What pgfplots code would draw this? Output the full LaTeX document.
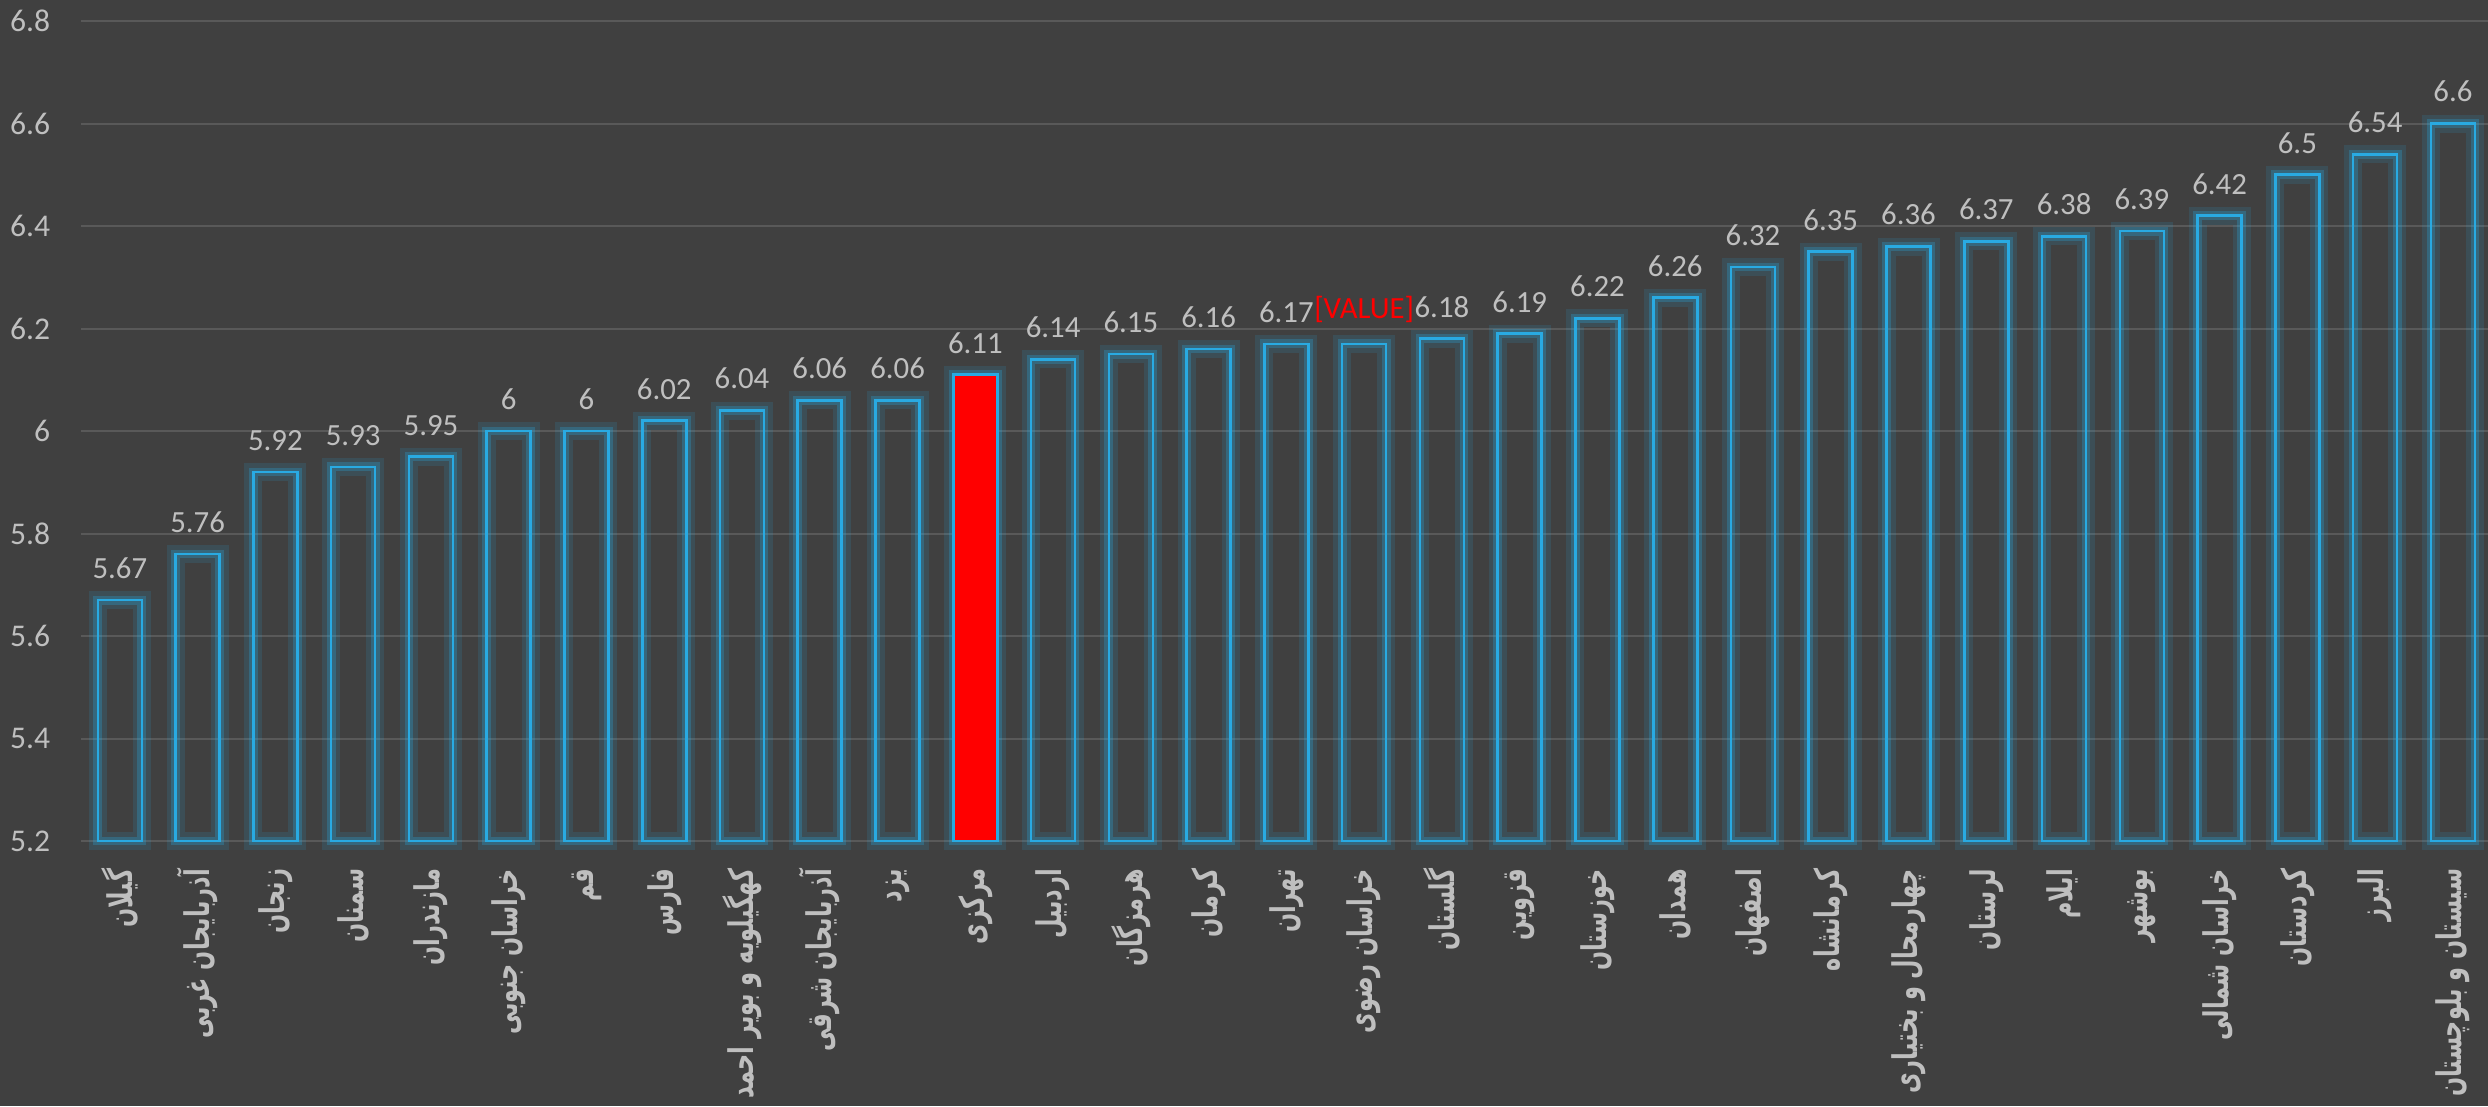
\documentclass[border=0pt]{standalone}
\usepackage{pgfplots}
\pgfplotsset{compat=1.18}
\usepackage{pgfplotstable}
\usepackage{fontspec}
\setmainfont{Carlito}
\newfontfamily\arabicfont[Script=Arabic, FakeStretch=0.66]{DejaVu Sans}
\TeXXeTstate=1
\definecolor{bg}{RGB}{64,64,64}
\definecolor{gridc}{RGB}{89,89,89}
\definecolor{txt}{RGB}{191,191,191}
\definecolor{barblue}{RGB}{41,170,226}

% province scores, sorted
\pgfplotstableread{
x y lab
0 5.67 5.67
1 5.76 5.76
2 5.92 5.92
3 5.93 5.93
4 5.95 5.95
5 6.00 6
6 6.00 6
7 6.02 6.02
8 6.04 6.04
9 6.06 6.06
10 6.06 6.06
11 6.11 6.11
12 6.14 6.14
13 6.15 6.15
14 6.16 6.16
15 6.17 6.17
16 6.17 {}
17 6.18 6.18
18 6.19 6.19
19 6.22 6.22
20 6.26 6.26
21 6.32 6.32
22 6.35 6.35
23 6.36 6.36
24 6.37 6.37
25 6.38 6.38
26 6.39 6.39
27 6.42 6.42
28 6.50 6.5
29 6.54 6.54
30 6.60 6.6
}\scores

\begin{document}
\begin{tikzpicture}
\path[use as bounding box, fill=bg] (-20.25pt,-66.25pt) rectangle (601.75pt,210.25pt);
\clip (-20.25pt,-66.25pt) rectangle (601.75pt,210.25pt);
\begin{axis}[
    at={(0,0)}, anchor=south west,
    width=602.7pt, height=205pt, scale only axis,
    ybar, bar width=11pt, bar shift=0pt,
    xmin=-0.5, xmax=30.5, ymin=0, ymax=1.6,
    y filter/.expression={y-5.2},
    clip=false,
    axis line style={draw=none},
    tick style={draw=none},
    ymajorgrids,
    grid style={gridc, line width=0.5pt},
    ytick={0,0.2,0.4,0.6,0.8,1,1.2,1.4,1.6},
    yticklabels={5.2,5.4,5.6,5.8,6,6.2,6.4,6.6,6.8},
    yticklabel style={font=\fontsize{7.9}{9}\selectfont, text=txt, inner sep=0pt},
    yticklabel shift=7.5pt,
    xtick={0,...,30},
    xticklabels={
        \beginR گیلان\endR,
        \beginR آذربایجان غربی\endR,
        \beginR زنجان\endR,
        \beginR سمنان\endR,
        \beginR مازندران\endR,
        \beginR خراسان جنوبی\endR,
        \beginR قم\endR,
        \beginR فارس\endR,
        \beginR کهگیلویه و بویر احمد\endR,
        \beginR آذربایجان شرقی\endR,
        \beginR یزد\endR,
        \beginR مرکزی\endR,
        \beginR اردبیل\endR,
        \beginR هرمزگان\endR,
        \beginR کرمان\endR,
        \beginR تهران\endR,
        \beginR خراسان رضوی\endR,
        \beginR گلستان\endR,
        \beginR قزوین\endR,
        \beginR خوزستان\endR,
        \beginR همدان\endR,
        \beginR اصفهان\endR,
        \beginR کرمانشاه\endR,
        \beginR چهارمحال و بختیاری\endR,
        \beginR لرستان\endR,
        \beginR ایلام\endR,
        \beginR بوشهر\endR,
        \beginR خراسان شمالی\endR,
        \beginR کردستان\endR,
        \beginR البرز\endR,
        \beginR سیستان و بلوچستان\endR},
    xticklabel style={font=\arabicfont\bfseries\fontsize{8.5}{9}\selectfont,
        text=txt, rotate=90, anchor=east, inner sep=0pt},
    xticklabel shift=2.5pt,
    /pgf/number format/assume math mode=true,
]
% glow
\addplot[draw=barblue, draw opacity=0.14, line width=4.5pt, fill=none]
    table[x=x, y=y] {\scores};
\addplot[draw=barblue, draw opacity=0.28, line width=2.2pt, fill=none]
    table[x=x, y=y] {\scores};
% outlines and values
\addplot[draw=barblue, line width=0.65pt, fill=none,
    nodes near coords, point meta=explicit symbolic,
    nodes near coords style={font=\fontsize{7.7}{9}\selectfont, text=txt,
        anchor=south, inner sep=0pt, yshift=5pt}]
    table[x=x, y=y, meta=lab] {\scores};
% highlighted province
\addplot[draw=barblue, line width=0.65pt, fill=red] coordinates {(11,6.11)};
% placeholder label
\addplot[draw=none, fill=none, nodes near coords={[VALUE]},
    nodes near coords style={font=\fontsize{7.7}{9}\selectfont, text=red,
        anchor=south, inner sep=0pt, yshift=5pt}]
    coordinates {(16,6.17)};
\end{axis}
\end{tikzpicture}
\end{document}
